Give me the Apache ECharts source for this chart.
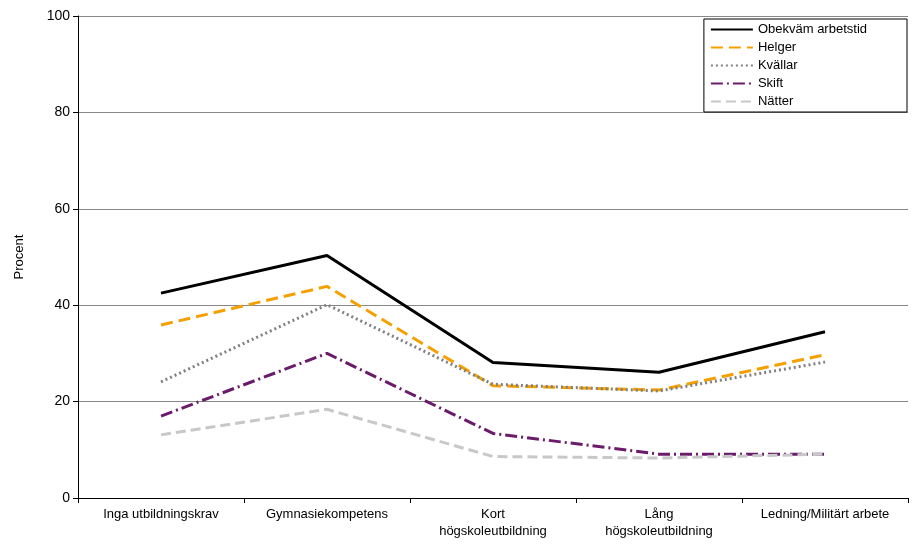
<!DOCTYPE html>
<html lang="sv">
  <head>
    <meta charset="UTF-8" />
    <title>Obekväm arbetstid</title>
    <script src="https://cdn.jsdelivr.net/npm/echarts@6/dist/echarts.min.js"></script>
    <style>
      body { margin: 0; background: #fff; }
      #main { width: 913px; height: 548px; }
    </style>
  </head>
  <body>
    <div id="main"></div>
    <script>
      const categories = [
        'Inga utbildningskrav',
        'Gymnasiekompetens',
        'Kort\nhögskoleutbildning',
        'Lång\nhögskoleutbildning',
        'Ledning/Militärt arbete'
      ]
      const obekvam = [42.5, 50.3, 28.1, 26.1, 34.5]
      const helger = [35.9, 43.9, 23.3, 22.4, 29.7]
      const kvallar = [24.1, 40.1, 23.6, 22.2, 28.2]
      const skift = [17.0, 30.0, 13.4, 9.1, 9.1]
      const natter = [13.1, 18.4, 8.6, 8.3, 9.1]

      const font = 'Liberation Sans, Arial, sans-serif'
      const mk = (name, data, color, type, width) => ({
        name, data, type: 'line', symbol: 'none',
        lineStyle: { color, type, width },
        itemStyle: { color }
      })

      const chart = echarts.init(document.getElementById('main'))
      chart.setOption({
        animation: false,
        grid: { left: 78, right: 5, top: 16, bottom: 50 },
        legend: {
          orient: 'vertical', right: 6, top: 19,
          itemWidth: 42, itemHeight: 10, itemGap: 5,
          padding: [4, 40, 4, 6],
          borderColor: '#000', borderWidth: 1,
          itemStyle: { opacity: 0 },
          lineStyle: { inactiveWidth: 3 },
          textStyle: { fontFamily: font, fontSize: 13, color: '#000' },
          data: ['Obekväm arbetstid', 'Helger', 'Kvällar', 'Skift', 'Nätter']
        },
        xAxis: {
          type: 'category', data: categories, boundaryGap: true,
          axisLine: { lineStyle: { color: '#000' } },
          axisTick: { show: true, lineStyle: { color: '#000' } },
          axisLabel: { color: '#000', fontFamily: font, fontSize: 13, interval: 0, lineHeight: 17 }
        },
        yAxis: {
          type: 'value', min: 0, max: 100, interval: 20,
          name: 'Procent', nameLocation: 'middle', nameGap: 52,
          nameTextStyle: { color: '#000', fontFamily: font, fontSize: 13 },
          axisLine: { show: true, lineStyle: { color: '#000' } },
          axisTick: { show: true, lineStyle: { color: '#000' } },
          axisLabel: { color: '#000', fontFamily: font, fontSize: 14 },
          splitLine: { lineStyle: { color: '#888' } }
        },
        series: [
          mk('Obekväm arbetstid', obekvam, '#000000', 'solid', 3),
          mk('Helger', helger, '#f5a000', [12, 6], 3),
          mk('Kvällar', kvallar, '#808080', [2, 3], 3),
          mk('Skift', skift, '#6a1b6a', [12, 4, 2, 4], 3),
          mk('Nätter', natter, '#c8c8c8', [10, 5], 3)
        ]
      })
    </script>
  </body>
</html>
